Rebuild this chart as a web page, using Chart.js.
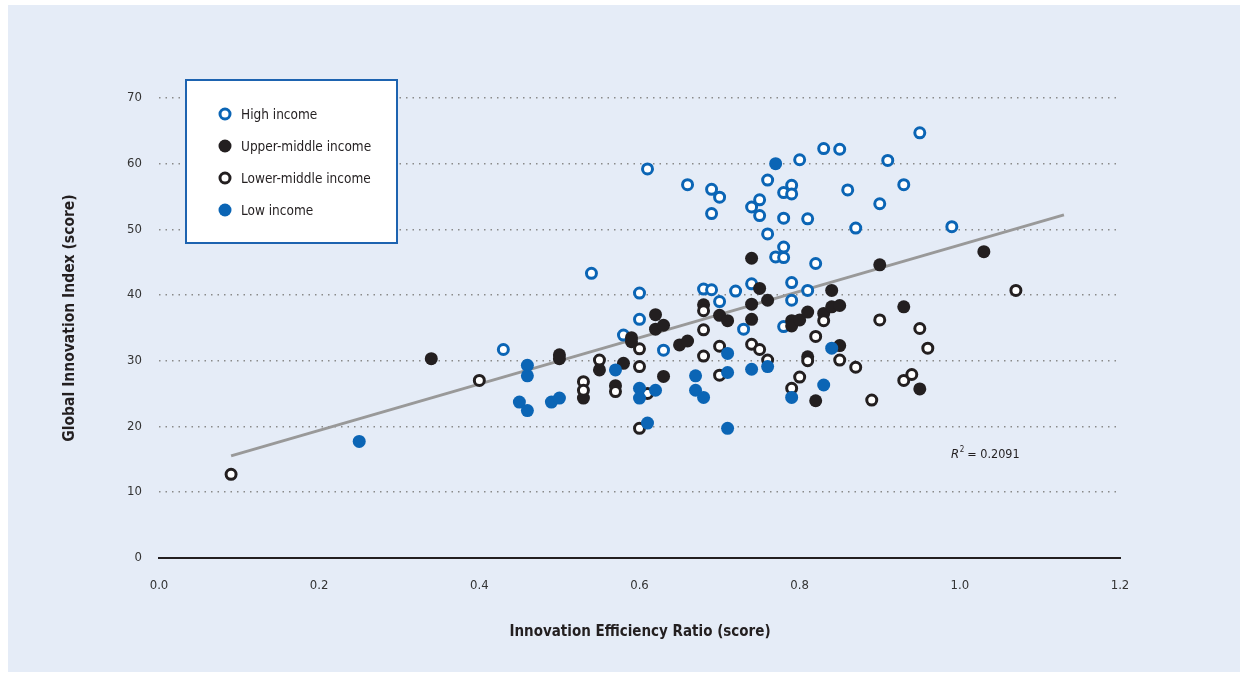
<!DOCTYPE html>
<html>
<head>
<meta charset="utf-8">
<script src="https://cdn.jsdelivr.net/npm/chart.js@4"></script>
<style>
  html, body { margin: 0; padding: 0; background: #ffffff; }
  #box { width: 1248px; height: 675px; }
</style>
</head>
<body>
<div id="box"><canvas id="grafico" width="1248" height="675"></canvas></div>
<script>
// valores: [Innovation Efficiency Ratio, Global Innovation Index]
const highIncome = [
  [0.43, 31.7], [0.54, 43.3], [0.58, 33.9], [0.60, 40.3], [0.60, 36.3], [0.61, 59.2],
  [0.63, 31.6], [0.66, 56.8], [0.68, 40.9], [0.69, 40.8], [0.69, 56.1], [0.70, 54.9],
  [0.69, 52.4], [0.70, 39.0], [0.72, 40.6], [0.73, 34.8], [0.74, 41.7], [0.74, 53.4],
  [0.75, 54.5], [0.75, 52.1], [0.76, 57.5], [0.76, 49.3], [0.77, 45.8], [0.78, 45.7],
  [0.78, 47.3], [0.78, 51.7], [0.78, 55.6], [0.79, 56.7], [0.79, 55.4], [0.78, 35.2],
  [0.79, 41.9], [0.79, 39.2], [0.80, 60.6], [0.81, 51.6], [0.81, 40.7], [0.82, 44.8],
  [0.83, 62.3], [0.85, 62.2], [0.86, 56.0], [0.87, 50.2], [0.90, 53.9], [0.91, 60.5],
  [0.93, 56.8], [0.95, 64.7], [0.99, 50.4]
]
const upperMiddle = [
  [0.34, 30.3], [0.50, 30.9], [0.50, 30.3], [0.53, 24.3], [0.55, 28.6], [0.57, 26.2],
  [0.58, 29.6], [0.59, 33.5], [0.59, 32.9], [0.62, 37.0], [0.62, 34.8], [0.63, 35.4],
  [0.63, 27.6], [0.65, 32.4], [0.66, 33.0], [0.68, 38.5], [0.70, 36.9], [0.71, 36.1],
  [0.74, 45.6], [0.74, 38.6], [0.74, 36.3], [0.75, 41.0], [0.76, 39.2], [0.79, 36.1],
  [0.79, 35.3], [0.80, 36.2], [0.81, 37.4], [0.81, 30.6], [0.82, 23.9], [0.83, 37.2],
  [0.84, 38.2], [0.85, 38.4], [0.84, 40.7], [0.85, 32.3], [0.90, 44.6], [0.93, 38.2],
  [0.95, 25.7], [1.03, 46.6]
]
const lowerMiddle = [
  [0.09, 12.7], [0.40, 27.0], [0.53, 26.8], [0.53, 25.5], [0.55, 30.1], [0.57, 25.3],
  [0.60, 31.8], [0.60, 29.1], [0.60, 19.7], [0.61, 25.0], [0.68, 37.6], [0.68, 34.7],
  [0.68, 30.7], [0.70, 32.2], [0.70, 27.8], [0.74, 32.5], [0.75, 31.7], [0.76, 30.1],
  [0.79, 25.8], [0.80, 27.5], [0.81, 30.0], [0.82, 33.7], [0.83, 36.1], [0.85, 30.1],
  [0.87, 29.0], [0.89, 24.0], [0.90, 36.2], [0.93, 27.0], [0.94, 27.9], [0.95, 34.9],
  [0.96, 31.9], [1.07, 40.7]
]
const lowIncome = [
  [0.25, 17.7], [0.45, 23.7], [0.46, 29.3], [0.46, 27.7], [0.46, 22.4], [0.49, 23.7],
  [0.50, 24.3], [0.57, 28.6], [0.60, 25.8], [0.60, 24.3], [0.61, 20.5], [0.62, 25.5],
  [0.67, 27.7], [0.67, 25.5], [0.68, 24.4], [0.71, 31.1], [0.71, 28.2], [0.71, 19.7],
  [0.74, 28.7], [0.76, 29.1], [0.77, 60.0], [0.79, 24.4], [0.83, 26.3], [0.84, 31.9]
]
const linhaTendencia = [[0.09, 15.5], [1.13, 52.2]]

const xTicks = ['0.0', '0.2', '0.4', '0.6', '0.8', '1.0', '1.2']
const yTicks = ['0', '10', '20', '30', '40', '50', '60', '70']
const legendas = ['High income', 'Upper-middle income', 'Lower-middle income', 'Low income']
const rotuloR2 = '0.2091'

const azul = '#0b65b5'
const preto = '#231f20'
const fonte = "'Liberation Sans Narrow', 'DejaVu Sans Condensed', sans-serif"

function pontos (lista) {
  return lista.map(p => ({ x: p[0], y: p[1] }))
}

// fundo azul claro
const fundo = {
  id: 'fundo',
  beforeDraw (chart) {
    const ctx = chart.ctx
    ctx.save()
    ctx.fillStyle = '#ffffff'
    ctx.fillRect(0, 0, chart.width, chart.height)
    ctx.fillStyle = '#e5ecf7'
    ctx.fillRect(8, 5, 1232, 667)
    ctx.restore()
  }
}

// titulos, legenda e R2
const extras = {
  id: 'extras',
  afterDatasetsDraw (chart) {
    const ctx = chart.ctx
    ctx.save()
    ctx.fillStyle = preto
    ctx.font = 'bold 15px ' + fonte
    ctx.textAlign = 'center'
    ctx.textBaseline = 'middle'
    ctx.fillText('Innovation Efficiency Ratio (score)', 640, 632)
    ctx.save()
    ctx.translate(70, 318)
    ctx.rotate(-Math.PI / 2)
    ctx.font = 'bold 15.5px ' + fonte
    ctx.fillText('Global Innovation Index (score)', 0, 0)
    ctx.restore()

    // R2
    ctx.textAlign = 'left'
    ctx.font = 'italic 13px ' + fonte
    ctx.fillText('R', 951, 455)
    let w = ctx.measureText('R').width
    ctx.font = '8px ' + fonte
    ctx.fillText('2', 951 + w + 0.5, 450)
    let w2 = ctx.measureText('2').width
    ctx.font = '12.5px ' + fonte
    ctx.fillText(' = ' + rotuloR2, 951 + w + w2, 455)

    // legenda
    ctx.fillStyle = '#ffffff'
    ctx.fillRect(186, 80, 211, 163)
    ctx.strokeStyle = '#1d63b0'
    ctx.lineWidth = 2
    ctx.strokeRect(186, 80, 211, 163)
    const estilos = [
      { fill: '#ffffff', stroke: azul, r: 5, bw: 3 },
      { fill: preto, stroke: preto, r: 6.5, bw: 0 },
      { fill: '#ffffff', stroke: preto, r: 5, bw: 3 },
      { fill: azul, stroke: azul, r: 6.5, bw: 0 }
    ]
    legendas.forEach((txt, i) => {
      const y = 114 + i * 32
      const e = estilos[i]
      ctx.beginPath()
      ctx.arc(225, y, e.r, 0, Math.PI * 2)
      ctx.fillStyle = e.fill
      ctx.fill()
      if (e.bw) {
        ctx.lineWidth = e.bw
        ctx.strokeStyle = e.stroke
        ctx.stroke()
      }
      ctx.fillStyle = preto
      ctx.font = '13.5px ' + fonte
      ctx.textBaseline = 'middle'
      ctx.fillText(txt, 241, y + 1)
    })
    ctx.restore()
  }
}

const grafico = document.getElementById('grafico')
const graficoGII = new Chart(grafico, {
  type: 'scatter',
  data: {
    datasets: [
      {
        label: legendas[3],
        data: pontos(lowIncome),
        backgroundColor: azul,
        borderWidth: 0,
        pointRadius: 6.5,
        order: 1
      },
      {
        label: legendas[2],
        data: pontos(lowerMiddle),
        backgroundColor: '#ffffff',
        borderColor: preto,
        borderWidth: 3,
        pointRadius: 5,
        order: 2
      },
      {
        label: legendas[1],
        data: pontos(upperMiddle),
        backgroundColor: preto,
        borderWidth: 0,
        pointRadius: 6.5,
        order: 3
      },
      {
        label: legendas[0],
        data: pontos(highIncome),
        backgroundColor: '#ffffff',
        borderColor: azul,
        borderWidth: 3,
        pointRadius: 5,
        order: 4
      },
      {
        label: 'trend',
        data: pontos(linhaTendencia),
        showLine: true,
        borderColor: '#999999',
        borderWidth: 3,
        pointRadius: 0,
        order: 5
      }
    ]
  },
  options: {
    responsive: false,
    animation: false,
    layout: { padding: { top: 98, right: 128, left: 0, bottom: 0 } },
    plugins: {
      legend: { display: false },
      tooltip: { enabled: false }
    },
    scales: {
      x: {
        type: 'linear',
        min: 0,
        max: 1.2,
        ticks: {
          stepSize: 0.2,
          padding: 20,
          color: '#333333',
          font: { family: fonte, size: 13 },
          callback: (v, i) => xTicks[i]
        },
        grid: { display: false, drawTicks: false },
        border: { display: true, color: preto, width: 2 },
        afterFit: (s) => { s.height = 117.3 }
      },
      y: {
        min: 0,
        max: 70,
        ticks: {
          stepSize: 10,
          padding: 17,
          color: '#333333',
          font: { family: fonte, size: 13 },
          callback: (v, i) => yTicks[i]
        },
        grid: { color: '#8a8a8a', lineWidth: 1.5, drawTicks: false },
        border: { display: false, dash: [1.5, 5] },
        afterFit: (s) => { s.width = 159 }
      }
    }
  },
  plugins: [fundo, extras]
})
</script>
</body>
</html>
